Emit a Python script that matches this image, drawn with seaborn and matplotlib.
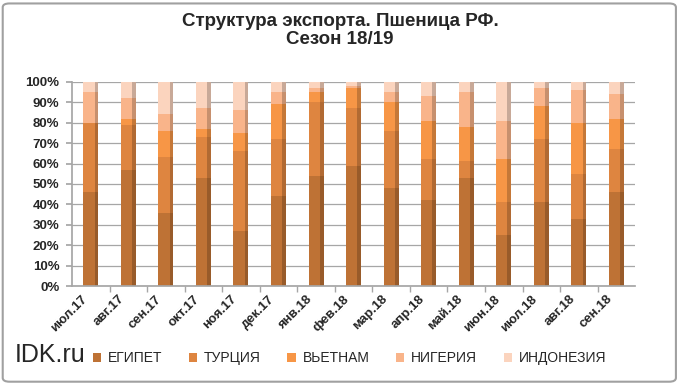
import numpy as np
import pandas as pd
import seaborn as sns
import matplotlib.pyplot as plt
from matplotlib.patches import FancyBboxPatch

months = ['июл.17', 'авг.17', 'сен.17', 'окт.17', 'ноя.17', 'дек.17', 'янв.18', 'фев.18',
          'мар.18', 'апр.18', 'май.18', 'июн.18', 'июл.18', 'авг.18', 'сен.18']
countries = ['ЕГИПЕТ', 'ТУРЦИЯ', 'ВЬЕТНАМ', 'НИГЕРИЯ', 'ИНДОНЕЗИЯ']

egypt = [46, 57, 36, 53, 27, 44, 54, 59, 48, 42, 53, 25, 41, 33, 46]
turkey = [34, 22, 27, 20, 39, 28, 36, 28, 28, 20, 8, 16, 31, 22, 21]
vietnam = [0, 3, 13, 4, 9, 17, 5, 10, 14, 19, 17, 21, 16, 25, 15]
nigeria = [15, 10, 8, 10, 11, 6, 2, 1, 5, 12, 17, 19, 9, 16, 12]
indonesia = [5, 8, 16, 13, 14, 5, 3, 2, 5, 7, 5, 19, 3, 4, 6]

colors = ['#BE7235', '#DE8540', '#F79646', '#F9B48A', '#FBD4BE']


def make_plot():
    sns.set_theme(style="white")
    plt.rcParams['font.family'] = ['Liberation Sans', 'DejaVu Sans']

    fig = plt.figure(figsize=(6.8, 3.84), dpi=100)
    ax = fig.add_axes([0.106, 0.255, 0.828, 0.532])

    shares = pd.DataFrame({'ЕГИПЕТ': egypt, 'ТУРЦИЯ': turkey, 'ВЬЕТНАМ': vietnam,
                           'НИГЕРИЯ': nigeria, 'ИНДОНЕЗИЯ': indonesia}, index=months)
    totals = shares.div(shares.sum(axis=1), axis=0).cumsum(axis=1)

    # stacked: draw cumulative totals from tallest down
    for name, col in reversed(list(zip(countries, colors))):
        sns.barplot(x=months, y=totals[name].values, color=col, width=0.4,
                    saturation=1, ax=ax, label=name, edgecolor='none')

    # darker side face for a bit of depth
    for i in range(len(months)):
        ax.bar(i + 0.2 - 0.05, totals['ИНДОНЕЗИЯ'].iloc[i], width=0.1,
               color='black', alpha=0.2, linewidth=0)

    ax.set_ylim(0, 1.0)
    ax.set_xlim(-0.5, len(months) - 0.5)
    ax.set_yticks(np.arange(0, 1.01, 0.1))
    ax.set_yticklabels([f'{int(round(v * 100))}%' for v in np.arange(0, 1.01, 0.1)],
                       fontsize=9.5, fontweight='bold')
    ax.yaxis.grid(True, color='#A6A6A6', linewidth=0.9)
    ax.set_axisbelow(True)
    # labels sit a little left of the bars, like the 3D original
    ax.set_xticks(np.arange(len(months)) - 0.27)
    ax.set_xticklabels(months, rotation=45, ha='right', rotation_mode='anchor',
                       fontsize=9.5, fontweight='bold')
    ax.set_xticks(np.arange(0.5, len(months) - 0.5, 1), minor=True)
    ax.tick_params(axis='x', which='major', length=0, pad=5)
    ax.tick_params(axis='x', which='minor', length=4, color='#A6A6A6', bottom=True)
    ax.tick_params(axis='y', length=4, color='#A6A6A6', left=True, pad=5)
    for s in ['top', 'right']:
        ax.spines[s].set_visible(False)
    ax.spines['left'].set_color('#A6A6A6')
    ax.spines['bottom'].set_color('#A6A6A6')
    ax.set_xlabel('')
    ax.set_ylabel('')

    fig.text(0.5, 0.965, 'Структура экспорта. Пшеница РФ.\nСезон 18/19', ha='center',
             va='top', fontsize=13.5, fontweight='bold', linespacing=1.05)

    handles, labels = ax.get_legend_handles_labels()
    order = [labels.index(c) for c in countries]
    ax.legend([handles[i] for i in order], countries, loc='center left',
              bbox_to_anchor=(0.118, 0.067), bbox_transform=fig.transFigure,
              ncol=5, frameon=False, handlelength=0.6, handleheight=0.6,
              columnspacing=1.9, handletextpad=0.5,
              prop={'family': ['Liberation Sans Narrow', 'Liberation Sans'], 'size': 10})

    fig.text(0.022, 0.075, 'IDK.ru', fontsize=18, va='center', ha='left')

    fig.patches.append(FancyBboxPatch((0.004, 0.006), 0.99, 0.985,
                                      boxstyle='round,pad=0,rounding_size=0.01',
                                      transform=fig.transFigure, fill=False,
                                      edgecolor='#A0A0A0', linewidth=1.5))

    fig.savefig('out.png', dpi=100)


if __name__ == '__main__':
    make_plot()
